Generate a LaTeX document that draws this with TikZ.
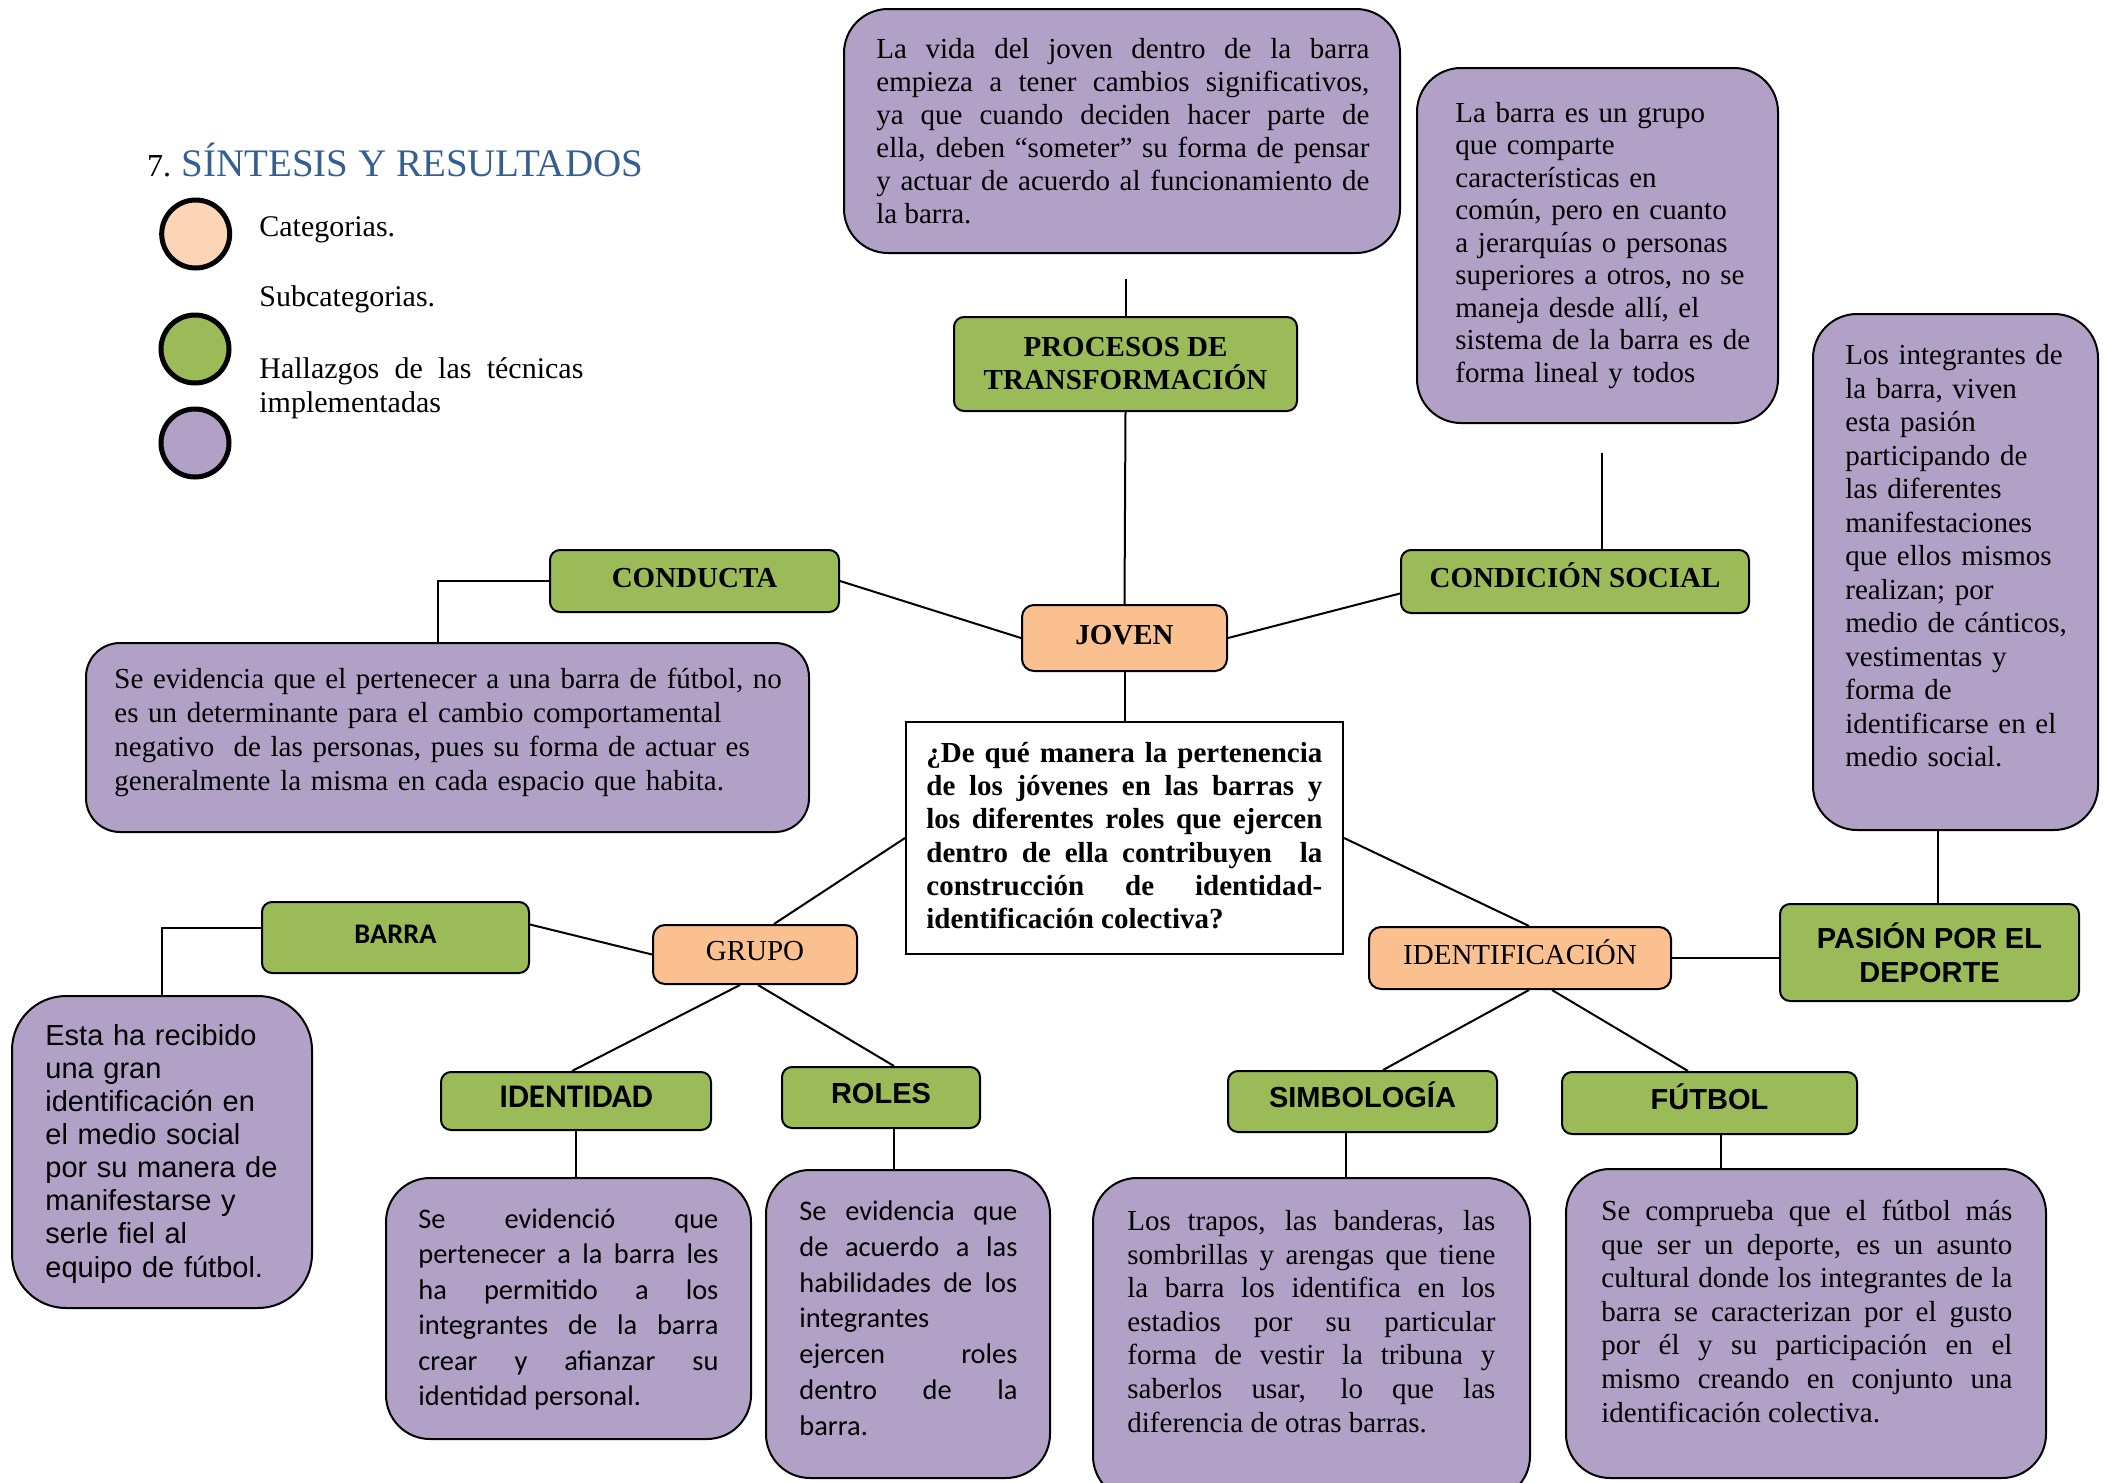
\documentclass[tikz,border=0pt]{standalone}
\usepackage{fontspec}
\setmainfont{Liberation Serif}
\newfontfamily\arialf{Liberation Sans}
\newfontfamily\calif{Carlito}
\definecolor{pur}{HTML}{B2A1C7}
\definecolor{grn}{HTML}{9BBB59}
\definecolor{pch}{HTML}{FAC090}
\definecolor{lpch}{HTML}{FBD5B5}
\definecolor{ttl}{HTML}{365F91}
\begin{document}
\begin{tikzpicture}[x=0.5pt,y=-0.5pt,
  box/.style={draw=black, line width=1pt, inner sep=0pt},
  pbox/.style={box, fill=pur, rounded corners=22pt},
  gbox/.style={box, fill=grn, rounded corners=5pt},
  cbox/.style={box, fill=pch, rounded corners=6pt, font=\fontsize{14.5}{16.5}\selectfont},
  lbl/.style={text height=9pt, text depth=3pt},
  tnrb/.style={font=\bfseries\fontsize{14.5}{16.5}\selectfont},
  arb/.style={font=\arialf\bfseries\fontsize{14.5}{17}\selectfont},
  txt/.style={inner sep=0pt, anchor=north west, execute at begin node={\noindent\strut}},
  legc/.style={circle, draw=black, line width=2.5pt, minimum size=34pt, inner sep=0pt},
  link/.style={line width=1pt, draw=black}]
\useasboundingbox (0,0) rectangle (2110,1483);

% ---------- title and legend ----------
\node[anchor=base west, inner sep=0pt] (title) at (146.7,176.7)
  {{\fontsize{16}{18}\selectfont 7. }{\color{ttl}\fontsize{19.5}{22}\selectfont SÍNTESIS Y RESULTADOS}};
\node[legc, fill=lpch] (lc1) at (195.7,234) {};
\node[legc, fill=grn] (lc2) at (195,349) {};
\node[legc, fill=pur] (lc3) at (195,443) {};
\node[anchor=base west, inner sep=0pt, font=\fontsize{15}{16.85}\selectfont] (lt1) at (259,236.7) {Categorias.};
\node[anchor=base west, inner sep=0pt, font=\fontsize{15}{16.85}\selectfont] (lt2) at (259,306.7) {Subcategorias.};
\node[txt, text width=162pt, align=justify, font=\fontsize{15}{16.85}\selectfont] (lt3) at (259,354.4)
  {Hallazgos de las técnicas\linebreak implementadas};

% ---------- top ----------
\node[pbox, minimum width=278pt, minimum height=122pt] (t1) at (1122,131) {};
\node[txt, text width=246.5pt, align=justify, font=\fontsize{14.5}{16.5}\selectfont] (t1t) at (876,34.9)
  {La vida del joven dentro de la barra\linebreak empieza a tener cambios significativos,\linebreak ya que cuando deciden hacer parte de\linebreak ella, deben “someter” su forma de pensar\linebreak y actuar de acuerdo al funcionamiento de\linebreak la barra.};

\node[pbox, minimum width=180.5pt, minimum height=177.5pt] (t2) at (1597.5,245.5) {};
\node[txt, text width=170pt, align=left, font=\fontsize{14.5}{16.25}\selectfont] (t2t) at (1455,99)
  {La barra es un grupo\\ que comparte\\ características en\\ común, pero en cuanto\\ a jerarquías o personas\\ superiores a otros, no se\\ maneja desde allí, el\\ sistema de la barra es de\\ forma lineal y todos};

\node[pbox, minimum width=142.5pt, minimum height=258pt] (t3) at (1955.5,572) {};
\node[txt, text width=125pt, align=left, font=\fontsize{14.5}{16.75}\selectfont] (t3t) at (1845,341)
  {Los integrantes de\\ la barra, viven\\ esta pasión\\ participando de\\ las diferentes\\ manifestaciones\\ que ellos mismos\\ realizan; por\\ medio de cánticos,\\ vestimentas y\\ forma de\\ identificarse en el\\ medio social.};

\node[gbox, tnrb, align=center, minimum width=171.5pt, minimum height=47pt] (proc) at (1125.5,364)
  {PROCESOS DE\\ TRANSFORMACIÓN};
\node[cbox, tnrb, lbl, minimum width=102.5pt, minimum height=33pt] (joven) at (1124.5,638) {JOVEN};
\node[box, fill=white, minimum width=218.5pt, minimum height=116pt] (q) at (1124.5,838) {};
\node[txt, text width=198pt, align=justify, font=\bfseries\fontsize{14.5}{16.6}\selectfont] (qt) at (926,738.8)
  {¿De qué manera la pertenencia\linebreak de los jóvenes en las barras y\linebreak los diferentes roles que ejercen\linebreak dentro de ella contribuyen\ \ la\linebreak construcción de identidad-\linebreak identificación colectiva?};

\node[gbox, tnrb, lbl, minimum width=144.5pt, minimum height=31pt] (cond) at (694.5,581) {CONDUCTA};
\node[pbox, rounded corners=17pt, minimum width=361.5pt, minimum height=94.5pt] (ctxt) at (447.5,737.5) {};
\node[txt, text width=350pt, align=left, font=\fontsize{14.5}{17}\selectfont] (ctxtt) at (114,664.2)
  {Se evidencia que el pertenecer a una barra de fútbol, no\\ es un determinante para el cambio comportamental\\ negativo\ \ de las personas, pues su forma de actuar es\\ generalmente la misma en cada espacio que habita.};

\node[gbox, tnrb, lbl, minimum width=174pt, minimum height=31.5pt] (csoc) at (1575,581.5) {CONDICIÓN SOCIAL};
\coordinate (csoctop) at (1602,453);
\coordinate (proctop) at (1124,279);

\node[gbox, arb, align=center, minimum width=149.5pt, minimum height=48.5pt] (pasion) at (1929.5,952.5)
  {PASIÓN POR EL\\ DEPORTE};
\node[cbox, lbl, minimum width=151pt, minimum height=31pt] (ident) at (1520,958) {IDENTIFICACIÓN};
\node[gbox, arb, lbl, minimum width=134.5pt, minimum height=30.5pt] (simb) at (1362.5,1101.5) {SIMBOLOGÍA};
\node[gbox, arb, lbl, minimum width=147.5pt, minimum height=31pt] (fut) at (1709.5,1103) {FÚTBOL};

\node[pbox, minimum width=218.5pt, minimum height=161pt] (stxt) at (1311.5,1339) {};
\node[txt, text width=184pt, align=justify, font=\fontsize{14.5}{16.8}\selectfont] (stxtt) at (1127,1206.5)
  {Los trapos, las banderas, las\linebreak sombrillas y arengas que tiene\linebreak la barra los identifica en los\linebreak estadios por su particular\linebreak forma de vestir la tribuna y\linebreak saberlos usar, lo que las\linebreak diferencia de otras barras.};
\node[pbox, minimum width=240pt, minimum height=154.5pt] (ftxt) at (1806,1323.5) {};
\node[txt, text width=205.5pt, align=justify, font=\fontsize{14.5}{16.8}\selectfont] (ftxtt) at (1601,1196.5)
  {Se comprueba que el fútbol más\linebreak que ser un deporte, es un asunto\linebreak cultural donde los integrantes de la\linebreak barra se caracterizan por el gusto\linebreak por él y su participación en el\linebreak mismo creando en conjunto una\linebreak identificación colectiva.};

% ---------- left lower ----------
\node[cbox, lbl, minimum width=102pt, minimum height=29.5pt] (grupo) at (755,954.5) {GRUPO};
\node[gbox, lbl, font=\calif\bfseries\fontsize{14.2}{17}\selectfont, minimum width=133.5pt, minimum height=35.5pt] (barra) at (395.5,937.5) {BARRA};
\node[pbox, rounded corners=27pt, minimum width=150pt, minimum height=156pt] (btxt) at (162,1152) {};
\node[txt, text width=130pt, align=left, font=\arialf\fontsize{14.5}{16.55}\selectfont] (btxtt) at (45,1021.8)
  {Esta ha recibido\\ una gran\\ identificación en\\ el medio social\\ por su manera de\\ manifestarse y\\ serle fiel al\\ equipo de fútbol.};

\node[gbox, lbl, font=\calif\bfseries\fontsize{16.5}{19}\selectfont, minimum width=135pt, minimum height=29pt] (idtd) at (576,1101) {IDENTIDAD};
\node[gbox, arb, lbl, minimum width=99pt, minimum height=30.5pt] (roles) at (881,1097.5) {ROLES};
\node[pbox, minimum width=182.5pt, minimum height=130.5pt] (itxt) at (568.5,1308.5) {};
\node[txt, text width=150pt, align=justify, font=\calif\fontsize{14.2}{17.75}\selectfont] (itxtt) at (418,1203.2)
  {Se evidenció que\linebreak pertenecer a la barra les\linebreak ha permitido a los\linebreak integrantes de la barra\linebreak crear y afianzar su\linebreak identidad personal.};
\node[pbox, minimum width=142pt, minimum height=154pt] (rtxt) at (908,1324) {};
\node[txt, text width=109pt, align=justify, font=\calif\fontsize{14.2}{17.9}\selectfont] (rtxtt) at (799,1195)
  {Se evidencia que\linebreak de acuerdo a las\linebreak habilidades de los\linebreak integrantes\linebreak ejercen roles\linebreak dentro de la\linebreak barra.};

% ---------- connectors ----------
\draw[link] (proc.north) -- (proc.north |- proctop);
\draw[link] (proc.south) -- (joven.north);
\draw[link] (joven.south) -- (q.north);
\draw[link] (cond.east) -- (joven.west);
\draw[link] (joven.east) -- ([yshift=-6pt]csoc.west);
\draw[link] ([xshift=13.5pt]csoc.north) -- (csoctop);
\draw[link] ([xshift=-9pt]t3.south) -- ([xshift=-9pt]t3.south |- pasion.north);
\draw[link] (q.east) -- ([xshift=4.5pt]ident.north);
\draw[link] (ident.east) -- (ident.east -| pasion.west);
\draw[link] ([xshift=4.5pt]ident.south) -- ([xshift=10.25pt]simb.north);
\draw[link] ([xshift=16pt]ident.south) -- ([xshift=-10.75pt]fut.north);
\draw[link] ([xshift=-8.25pt]simb.south) -- ([xshift=-8.25pt]simb.south |- stxt.north);
\draw[link] ([xshift=5.5pt]fut.south) -- ([xshift=5.5pt]fut.south |- ftxt.north);
\draw[link] (q.west) -- ([xshift=9.5pt]grupo.north);
\draw[link] (grupo.west) -- ([yshift=6.5pt]barra.east);
\draw[link] ([yshift=5pt]barra.west) -| (btxt.north);
\draw[link] (cond.west) -| ([xshift=-4.75pt]ctxt.north);
\draw[link] ([xshift=-7.5pt]grupo.south) -- ([xshift=-2pt]idtd.north);
\draw[link] ([xshift=1.5pt]grupo.south) -- ([xshift=6.5pt]roles.north);
\draw[link] (idtd.south) -- (idtd.south |- itxt.north);
\draw[link] ([xshift=6.5pt]roles.south) -- ([xshift=6.5pt]roles.south |- rtxt.north);
\end{tikzpicture}
\end{document}
